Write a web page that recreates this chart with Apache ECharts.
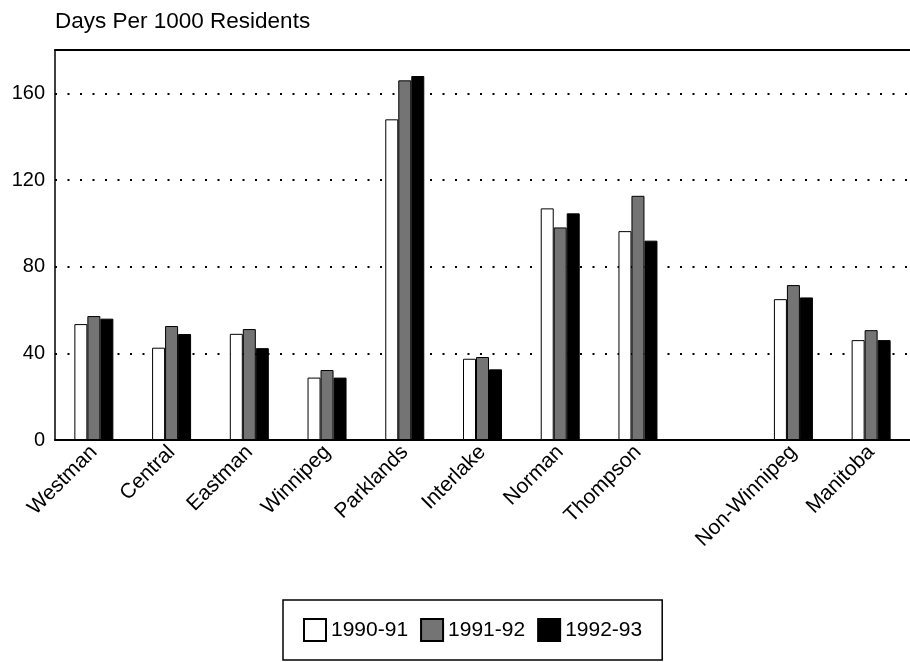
<!DOCTYPE html>
<html>
<head>
<meta charset="utf-8">
<script src="https://cdn.jsdelivr.net/npm/echarts@6/dist/echarts.min.js"></script>
<style>
html, body { margin: 0; padding: 0; background: #fff; }
#chart { width: 910px; height: 662px; }
</style>
</head>
<body>
<div id="chart"></div>
<script>
// regions, with an empty slot between Thompson and Non-Winnipeg
var regions = ['Westman', 'Central', 'Eastman', 'Winnipeg', 'Parklands', 'Interlake', 'Norman', 'Thompson', '', 'Non-Winnipeg', 'Manitoba'];
var years = ['1990-91', '1991-92', '1992-93'];
var data9091 = [53.5, 42.6, 49, 28.8, 148, 37.5, 106.9, 96.4, null, 65, 46.1];
var data9192 = [57.2, 52.6, 51.2, 32.3, 166, 38.3, 98.1, 112.7, null, 71.5, 50.7];
var data9293 = [56, 48.9, 42.4, 28.8, 168, 32.6, 104.6, 92, null, 65.8, 46.1];
var yTicks = [0, 40, 80, 120, 160];

window.onload = function() {
	var font = 'Liberation Sans, Arial, sans-serif';
	var myChart = echarts.init(document.getElementById('chart'));

	function barSeries(name, values, color) {
		return {
			name : name,
			type : 'bar',
			data : values,
			barWidth : 13,
			barGap : '0%',
			itemStyle : {
				color : color,
				borderColor : '#000',
				borderWidth : 1
			}
		};
	}

	var option = {
		animation : false,
		backgroundColor : '#fff',
		textStyle : { fontFamily : font, color : '#000' },
		title : {
			text : 'Days Per 1000 Residents',
			left : 50,
			top : 5,
			textStyle : { fontFamily : font, fontSize : 22.5, fontWeight : 'normal', color : '#000' }
		},
		legend : {
			data : years,
			left : 283,
			top : 600,
			padding : [18, 20],
			itemGap : 12,
			itemWidth : 22,
			itemHeight : 22,
			icon : 'rect',
			borderColor : '#000',
			borderWidth : 1.5,
			textStyle : { fontFamily : font, fontSize : 21, color : '#000' }
		},
		grid : {
			left : 55,
			top : 50,
			width : 867,
			bottom : 222
		},
		xAxis : [ {
			type : 'category',
			data : regions,
			position : 'bottom',
			axisLine : { lineStyle : { color : '#000', width : 2 } },
			axisTick : { show : false },
			axisLabel : {
				interval : 0,
				rotate : 45,
				margin : 9,
				fontSize : 21,
				fontFamily : font,
				color : '#000'
			}
		}, {
			type : 'category',
			data : regions,
			position : 'top',
			axisLine : { lineStyle : { color : '#000', width : 2 } },
			axisTick : { show : false },
			axisLabel : { show : false }
		} ],
		yAxis : {
			type : 'value',
			min : yTicks[0],
			max : 180,
			interval : 40,
			axisLine : { show : true, lineStyle : { color : '#000', width : 1.5 } },
			axisTick : { show : false },
			axisLabel : {
				margin : 10,
				fontSize : 20,
				fontFamily : font,
				color : '#000',
				formatter : function(v) { return yTicks.indexOf(v) >= 0 ? v : ''; }
			},
			splitLine : {
				show : true,
				lineStyle : { color : '#000', width : 2, type : [2, 10.5] }
			}
		},
		series : [
			barSeries(years[0], data9091, '#fff'),
			barSeries(years[1], data9192, '#747474'),
			barSeries(years[2], data9293, '#000')
		]
	};
	myChart.setOption(option);
};
</script>
</body>
</html>
